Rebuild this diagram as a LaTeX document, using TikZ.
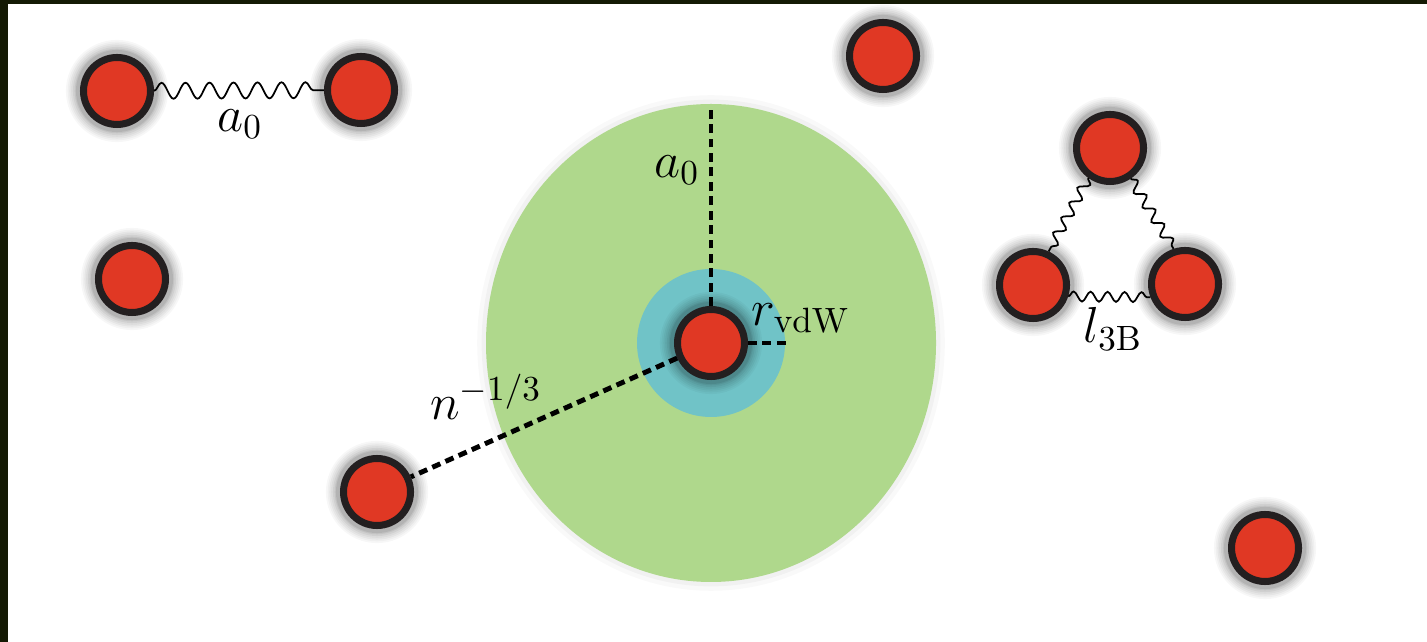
\documentclass[tikz,border=0pt]{standalone}
\usepackage{tikz}
\usetikzlibrary{positioning, calc, decorations.pathmorphing}
\definecolor{atomred}{RGB}{224,56,36}
\definecolor{atomedge}{RGB}{35,31,32}
\definecolor{shellgreen}{RGB}{175,216,140}
\definecolor{vdwcyan}{RGB}{112,195,199}
\definecolor{framedark}{RGB}{20,26,4}
\tikzset{
  atom/.style   = {circle, draw=atomedge, line width=2pt, fill=atomred, minimum size=6.7mm, inner sep=0pt,
                   preaction={draw=black, draw opacity=0.03, line width=10pt},
                   preaction={draw=black, draw opacity=0.03, line width=9pt},
                   preaction={draw=black, draw opacity=0.04, line width=8pt},
                   preaction={draw=black, draw opacity=0.04, line width=7pt},
                   preaction={draw=black, draw opacity=0.05, line width=6pt},
                   preaction={draw=black, draw opacity=0.06, line width=5pt},
                   preaction={draw=black, draw opacity=0.08, line width=4.3pt}},
  spring/.style = {decorate, decoration={snake, segment length=2.4mm, amplitude=0.8mm}, line width=0.5pt},
  tspring/.style= {spring, decoration={snake, segment length=1.7mm, amplitude=0.5mm}},
  dist/.style   = {line width=1.4pt, dash pattern=on 2.5pt off 1.6pt},
  lbl/.style    = {font=\Large, inner sep=0pt}
}

\begin{document}
\begin{tikzpicture}
\useasboundingbox (0,0) rectangle (14.27,-6.42);
\fill[framedark] (0,0) rectangle (14.27,-6.42);
\fill[white] (0.08,-0.04) rectangle (14.27,-6.42);
%% ===== shells round the middle atom =====
\coordinate (ctr) at (7.11,-3.43);
\fill[shellgreen, preaction={draw=black, draw opacity=0.025, line width=5pt},
      preaction={draw=black, draw opacity=0.03, line width=2.5pt}]
  (ctr) ellipse [x radius=2.25, y radius=2.39];
\fill[vdwcyan] (ctr) circle (0.74);
%% ===== atoms =====
% (1) bound pair
\node[atom] (p1) at (1.17,-0.91) {};
\node[atom] (p2) at (3.61,-0.90) {};
% (2) free atoms
\node[atom] (s1) at (8.83,-0.56) {};
\node[atom] (s2) at (1.32,-2.79) {};
\node[atom] (s3) at (3.77,-4.92) {};
\node[atom] (s4) at (12.65,-5.48) {};
% (3) middle atom
\node[atom] (c0) at (ctr) {};
% (4) three-body cluster
\node[atom] (t1) at (11.10,-1.48) {};
\node[atom] (t2) at (10.33,-2.85) {};
\node[atom] (t3) at (11.85,-2.84) {};
%% ===== springs =====
\draw[spring] (p1) -- (p2);
\node[lbl] at (2.40,-1.24) {$a_0$};
\draw[tspring] (t1.-126) -- (t2.65);
\draw[tspring] (t1.-56) -- (t3.108);
\draw[tspring] (t2.-18) -- (t3.-159);
\node[lbl] at (11.13,-3.29) {$l_{\mathrm{3B}}$};
%% ===== distances =====
\coordinate (gtop) at (7.11,-1.10);
\coordinate (vdw) at (7.86,-3.43);
\draw[dist] (c0) -- (gtop);
\draw[dist] (c0) -- (vdw);
\draw[dist] (c0) -- (s3);
\node[lbl] at (6.77,-1.70) {$a_0$};
\node[lbl] at (8.01,-3.18) {$r_{\mathrm{vdW}}$};
\node[lbl] at (4.86,-3.97) {$n^{-1/3}$};
\end{tikzpicture}
\end{document}
